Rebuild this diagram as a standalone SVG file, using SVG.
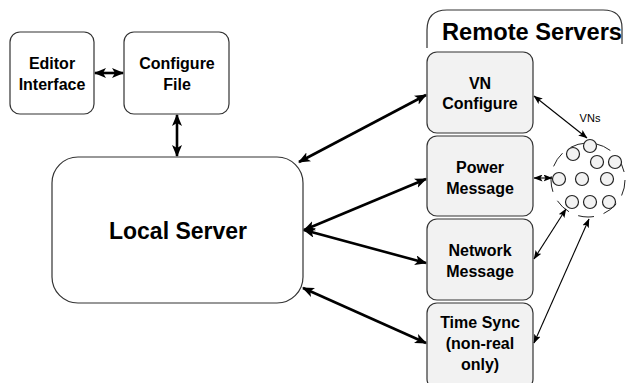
<svg xmlns="http://www.w3.org/2000/svg" width="626" height="383" viewBox="0 0 626 383">
<style>
.box{fill:#ffffff;stroke:#333333;stroke-width:1.2}
.rbox{fill:#f2f2f2;stroke:#333333;stroke-width:1.2}
.t{font-family:"Liberation Sans",Arial,sans-serif;font-weight:bold;font-size:16px;fill:#000;text-anchor:middle}
.thick{stroke:#000;stroke-width:2.6;fill:none;marker-start:url(#bh);marker-end:url(#bh)}
.thin{stroke:#000;stroke-width:1.1;fill:none;marker-start:url(#sh);marker-end:url(#sh)}
.vn{fill:#f2f2f2;stroke:#222;stroke-width:1.2}
</style>
<defs>
<marker id="bh" viewBox="0 0 12 10" refX="11" refY="5" markerWidth="12" markerHeight="10" markerUnits="userSpaceOnUse" orient="auto-start-reverse">
<path d="M0,0 L12,5 L0,10 L3,5 Z" fill="#000"/>
</marker>
<marker id="sh" viewBox="0 0 9 7" refX="8.5" refY="3.5" markerWidth="9" markerHeight="7" markerUnits="userSpaceOnUse" orient="auto-start-reverse">
<path d="M0,0 L9,3.5 L0,7 L2,3.5 Z" fill="#000"/>
</marker>
</defs>

<g id="remote-servers">
<path d="M427,48 L427,30 Q427,10 447,10 L603,10 Q622,10 622,28 L622,44" fill="none" stroke="#333" stroke-width="1.2"/>
<text x="532" y="40" font-family="'Liberation Sans',Arial,sans-serif" font-weight="bold" font-size="23" text-anchor="middle" textLength="180" lengthAdjust="spacingAndGlyphs">Remote Servers</text>
</g>

<g id="editor-interface">
<rect class="box" x="10" y="32" width="84" height="82" rx="10"/>
<text class="t" x="52" y="69">Editor</text>
<text class="t" x="52" y="90">Interface</text>
</g>

<g id="configure-file">
<rect class="box" x="124" y="32" width="105" height="82" rx="10"/>
<text class="t" x="177" y="69">Configure</text>
<text class="t" x="177" y="90">File</text>
</g>

<g id="local-server">
<rect class="box" x="52" y="157" width="251" height="146" rx="26"/>
<text x="178" y="239" font-family="'Liberation Sans',Arial,sans-serif" font-weight="bold" font-size="23" text-anchor="middle">Local Server</text>
</g>

<g id="vn-configure">
<rect class="rbox" x="427" y="52" width="106" height="81" rx="10"/>
<text class="t" x="480" y="89">VN</text>
<text class="t" x="480" y="109">Configure</text>
</g>

<g id="power-message">
<rect class="rbox" x="427" y="136" width="106" height="80" rx="10"/>
<text class="t" x="480" y="173">Power</text>
<text class="t" x="480" y="194">Message</text>
</g>

<g id="network-message">
<rect class="rbox" x="427" y="219" width="106" height="81" rx="10"/>
<text class="t" x="480" y="256">Network</text>
<text class="t" x="480" y="277">Message</text>
</g>

<g id="time-sync">
<rect class="rbox" x="427" y="303" width="106" height="86" rx="10"/>
<text class="t" x="480" y="328">Time Sync</text>
<text class="t" x="480" y="349">(non-real</text>
<text class="t" x="480" y="370">only)</text>
</g>

<g id="vns">
<circle cx="588" cy="180" r="37" fill="none" stroke="#222" stroke-width="1" stroke-dasharray="16 10"/>
<circle class="vn" cx="590" cy="146" r="6.5"/>
<circle class="vn" cx="573" cy="154" r="6.5"/>
<circle class="vn" cx="597" cy="162" r="6.5"/>
<circle class="vn" cx="615" cy="162" r="6.5"/>
<circle class="vn" cx="559" cy="179" r="6.5"/>
<circle class="vn" cx="582" cy="179" r="6.5"/>
<circle class="vn" cx="607" cy="179" r="6.5"/>
<circle class="vn" cx="572" cy="202" r="6.5"/>
<circle class="vn" cx="590" cy="202" r="6.5"/>
<circle class="vn" cx="609" cy="202" r="6.5"/>
<text x="590" y="122" font-family="'Liberation Sans',Arial,sans-serif" font-size="11" text-anchor="middle">VNs</text>
</g>

<g id="connectors">
<line class="thick" x1="95" y1="73" x2="123" y2="73"/>
<line class="thick" x1="177" y1="115" x2="177" y2="156"/>
<line class="thick" x1="299" y1="162" x2="426" y2="95"/>
<line class="thick" x1="304" y1="230" x2="426" y2="179"/>
<line class="thick" x1="304" y1="230" x2="426" y2="263"/>
<line class="thick" x1="303" y1="288" x2="426" y2="343"/>
<line class="thin" x1="534" y1="96" x2="587" y2="138"/>
<line class="thin" x1="534" y1="178" x2="552" y2="178"/>
<line class="thin" x1="534" y1="259" x2="566" y2="209"/>
<line class="thin" x1="534" y1="343" x2="589" y2="219"/>
</g>
</svg>
